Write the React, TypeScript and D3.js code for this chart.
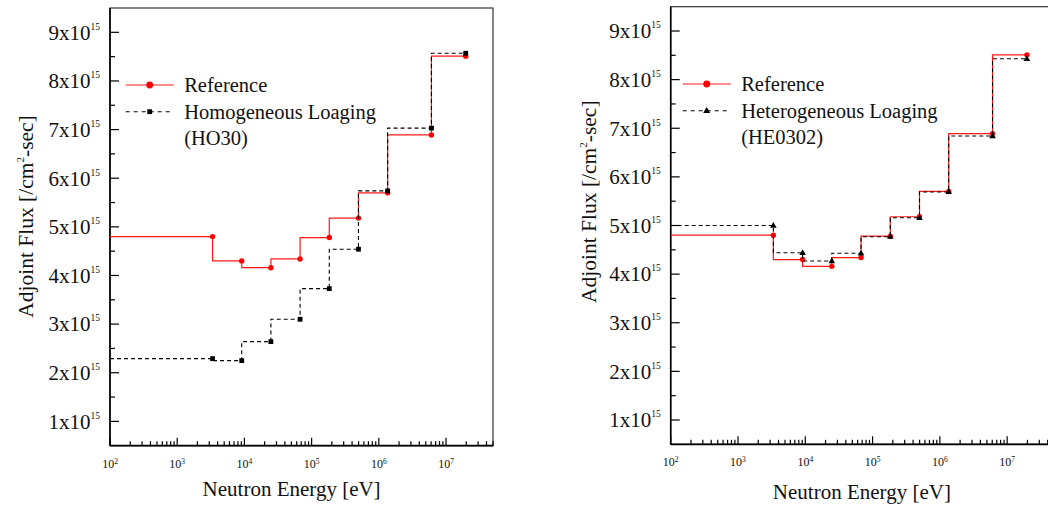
import React from "react";
import * as d3 from "d3";

// Energy group upper boundaries [eV]
const energies = [3.354e3, 9.119e3, 2.479e4, 6.738e4, 1.832e5, 4.979e5, 1.353e6, 6.065e6, 1.964e7];
const lowestEnergy = 1e2;
// Adjoint flux values (x 1e15 /cm2-sec)
const referenceFlux = [4.8, 4.3, 4.16, 4.34, 4.78, 5.18, 5.7, 6.89, 8.51];
const homogeneousFlux = [2.29, 2.25, 2.64, 3.1, 3.73, 4.54, 5.74, 7.03, 8.57];
const heterogeneousFlux = [5.0, 4.44, 4.27, 4.43, 4.77, 5.16, 5.69, 6.84, 8.43];

const yTickValues = [1, 2, 3, 4, 5, 6, 7, 8, 9];
const yMinorTickValues = [1.5, 2.5, 3.5, 4.5, 5.5, 6.5, 7.5, 8.5];
const xDecades = [2, 3, 4, 5, 6, 7];

const FONT = "'Liberation Serif', 'Times New Roman', serif";

type Marker = "circle" | "square" | "triangle";

function MarkerShape({ type, x, y, size, color }: { type: Marker; x: number; y: number; size: number; color: string }) {
  if (type === "circle") return <circle cx={x} cy={y} r={size} fill={color} />;
  if (type === "square") return <rect x={x - size} y={y - size} width={size * 2} height={size * 2} fill={color} />;
  const h = size * 1.9;
  return (
    <path
      d={`M${x},${y - h * 0.62}L${x + size * 1.1},${y + h * 0.38}L${x - size * 1.1},${y + h * 0.38}Z`}
      fill={color}
    />
  );
}

interface PanelProps {
  left: number;
  top: number;
  width: number;
  height: number;
  compare: number[];
  compareMarker: Marker;
  legend1: string;
  legend2a: string;
  legend2b: string;
  legendX: number;
  legendY: number;
  yTitleX: number;
  yTitleY: number;
  xTitleX: number;
  xTitleY: number;
}

function Panel(p: PanelProps) {
  const x = d3.scaleLog().domain([1e2, 5e7]).range([0, p.width]);
  const y = d3.scaleLinear().domain([0.5, 9.5]).range([p.height, 0]);

  const stepLine = d3
    .line<[number, number]>()
    .x((d) => x(d[0]))
    .y((d) => y(d[1]))
    .curve(d3.curveStepBefore);

  const toPts = (vals: number[]): [number, number][] => [
    [lowestEnergy, vals[0]],
    ...energies.map((e, i) => [e, vals[i]] as [number, number]),
  ];

  const minorX: number[] = [];
  xDecades.forEach((d) => {
    for (let k = 2; k <= 9; k++) {
      const v = k * Math.pow(10, d);
      if (v <= 5e7) minorX.push(v);
    }
  });

  const lg = p.legendX;
  const ly = p.legendY;

  return (
    <g transform={`translate(${p.left},${p.top})`} fontFamily={FONT} fill="#111">
      {/* frame */}
      <rect x={0} y={0} width={p.width} height={p.height} fill="none" stroke="#333" strokeWidth={1.2} />
      <line x1={0} x2={0} y1={0} y2={p.height} stroke="#000" strokeWidth={1.6} />
      <line x1={0} x2={p.width} y1={p.height} y2={p.height} stroke="#000" strokeWidth={1.8} />

      {/* y ticks */}
      {yTickValues.map((v) => (
        <g key={"yt" + v}>
          <line x1={0} x2={9} y1={y(v)} y2={y(v)} stroke="#000" strokeWidth={1.2} />
          <text x={-10} y={y(v) + 7.3} textAnchor="end" fontSize={21}>
            {v}x10
            <tspan dy={-10} fontSize={9.5}>
              15
            </tspan>
          </text>
        </g>
      ))}
      {yMinorTickValues.map((v) => (
        <line key={"ym" + v} x1={0} x2={5} y1={y(v)} y2={y(v)} stroke="#000" strokeWidth={1.2} />
      ))}

      {/* x ticks */}
      {xDecades.map((d) => (
        <g key={"xt" + d}>
          <line x1={x(Math.pow(10, d))} x2={x(Math.pow(10, d))} y1={p.height} y2={p.height - 8} stroke="#000" strokeWidth={1.2} />
          <text x={x(Math.pow(10, d))} y={p.height + 22} textAnchor="middle" fontSize={12}>
            10
            <tspan dy={-4} fontSize={7.5}>
              {d}
            </tspan>
          </text>
        </g>
      ))}
      {minorX.map((v) => (
        <line key={"xm" + v} x1={x(v)} x2={x(v)} y1={p.height} y2={p.height - 4.5} stroke="#000" strokeWidth={1.2} />
      ))}

      {/* series */}
      <path d={stepLine(toPts(referenceFlux)) || ""} fill="none" stroke="#ff1a1a" strokeWidth={1.2} />
      {energies.map((e, i) => (
        <MarkerShape key={"r" + i} type="circle" x={x(e)} y={y(referenceFlux[i])} size={2.7} color="#ff0000" />
      ))}
      <path d={stepLine(toPts(p.compare)) || ""} fill="none" stroke="#000" strokeWidth={1.1} strokeDasharray="4,3" />
      {energies.map((e, i) => (
        <MarkerShape key={"c" + i} type={p.compareMarker} x={x(e)} y={y(p.compare[i])} size={p.compareMarker === "square" ? 2.4 : 3} color="#000" />
      ))}

      {/* legend */}
      <line x1={lg} x2={lg + 48} y1={ly} y2={ly} stroke="#ff1a1a" strokeWidth={1.2} />
      <circle cx={lg + 24} cy={ly} r={3.4} fill="#ff0000" />
      <text x={lg + 58.5} y={ly + 7} fontSize={20.5}>
        {p.legend1}
      </text>
      <line x1={lg} x2={lg + 48} y1={ly + 26.7} y2={ly + 26.7} stroke="#000" strokeWidth={1.1} strokeDasharray="4,4" />
      <MarkerShape type={p.compareMarker} x={lg + 24} y={ly + 26.7} size={p.compareMarker === "square" ? 2.4 : 3.2} color="#000" />
      <text x={lg + 58.5} y={ly + 34} fontSize={20.5}>
        {p.legend2a}
      </text>
      <text x={lg + 58.5} y={ly + 60} fontSize={20.5}>
        {p.legend2b}
      </text>

      {/* axis titles */}
      <text transform={`translate(${p.yTitleX},${p.yTitleY}) rotate(-90)`} textAnchor="middle" fontSize={21.5}>
        Adjoint Flux [/cm
        <tspan dy={-9} fontSize={11}>
          2
        </tspan>
        <tspan dy={9}>-sec]</tspan>
      </text>
      <text x={p.xTitleX} y={p.xTitleY} textAnchor="middle" fontSize={21}>
        Neutron Energy [eV]
      </text>
    </g>
  );
}

export default function App() {
  return (
    <svg
      width={1048}
      height={506}
      style={{ position: "absolute", left: 0, top: 0, background: "#fff" }}
    >
      <rect width={1048} height={506} fill="#fff" />
      <Panel
        left={110}
        top={8}
        width={383}
        height={437.7}
        compare={homogeneousFlux}
        compareMarker="square"
        legend1="Reference"
        legend2a="Homogeneous Loaging"
        legend2b="(HO30)"
        legendX={15.7}
        legendY={77}
        yTitleX={-77.5}
        yTitleY={208.5}
        xTitleX={181.6}
        xTitleY={487.5}
      />
      <Panel
        left={670.7}
        top={6.7}
        width={383.5}
        height={437.6}
        compare={heterogeneousFlux}
        compareMarker="triangle"
        legend1="Reference"
        legend2a="Heterogeneous Loaging"
        legend2b="(HE0302)"
        legendX={12}
        legendY={77.3}
        yTitleX={-75}
        yTitleY={195}
        xTitleX={191.2}
        xTitleY={492.6}
      />
    </svg>
  );
}
